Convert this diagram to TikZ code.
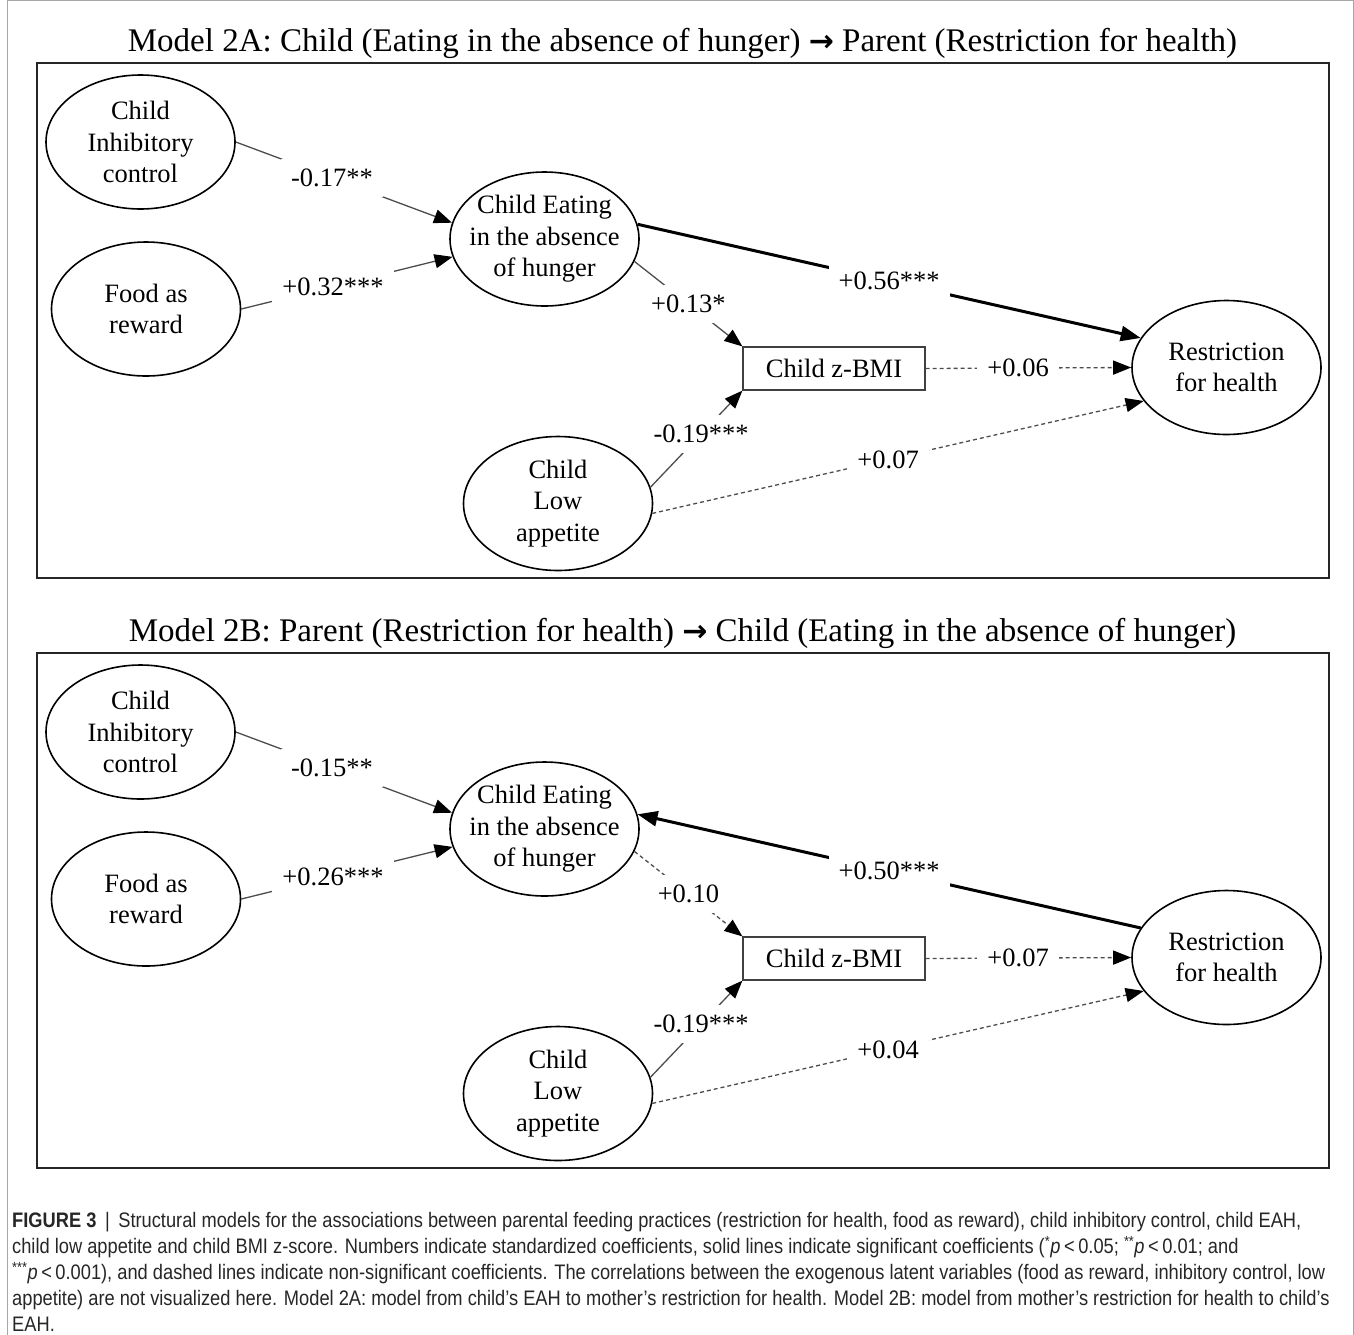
\documentclass[tikz,border=0pt]{standalone}
\usepackage{fontspec}
\setmainfont{Liberation Serif}
\setsansfont[FakeStretch=0.87]{Liberation Sans}
\newfontfamily\arrowfont{DejaVu Sans}
\usetikzlibrary{arrows.meta, shapes.geometric}

\begin{document}
\begin{tikzpicture}[x=1pt, y=-1pt,
    font=\fontsize{26.5}{31.5}\selectfont,
    latent/.style={draw, line width=1.6pt, ellipse, minimum width=189pt,
      minimum height=134pt, inner xsep=-30pt, inner ysep=0pt, align=center},
    obs/.style={draw=black!75, line width=1.2pt, minimum width=182pt,
      minimum height=43pt, inner sep=0pt},
    coef/.style={fill=white, inner sep=10pt},
    sig/.style={draw=black!70, line width=1.3pt,
      -{Triangle[length=18pt, width=14pt, color=black]}},
    ns/.style={sig, dash pattern=on 4pt off 3pt},
    strong/.style={draw=black, line width=3pt,
      -{Triangle[length=20pt, width=15pt]}},
    panel/.style={draw=black!85, line width=2pt},
    heading/.style={font=\fontsize{33}{33}\selectfont}]
    \useasboundingbox (0,0) rectangle (1354,1334);
    % outer frame
    \draw[black!35, line width=1pt] (7,0.5) rectangle (1353,1340);

    % Model 2A
    \node[heading] (atitle) at (682.5,43) {Model 2A: Child (Eating in the absence of hunger) {\arrowfont\bfseries\fontsize{30}{30}\selectfont →} Parent (Restriction for health)};
    \draw[panel] (37,63) rectangle (1329,578);
    \node[latent] (ainh) at (140.5,142) {Child\\Inhibitory\\control};
    \node[latent] (afood) at (146,309) {Food as\\reward};
    \node[latent] (aeat) at (544.5,239) {Child Eating\\in the absence\\of hunger};
    \node[obs] (abmi) at (834,368.5) {Child z-BMI};
    \node[latent] (arest) at (1226.5,367.5) {Restriction\\for health};
    \node[latent] (alow) at (558,503.5) {Child\\Low\\appetite};

    \draw[sig] (ainh.east) -- node[coef, pos=0.445] {-0.17**} (aeat.170);
    \draw[sig] (afood.east) -- node[coef, pos=0.434] {+0.32***} (aeat.191);
    \draw[strong] (aeat.9) -- node[coef] {+0.56***} (arest.161);
    \draw[sig] (aeat.346) -- node[coef, pos=0.5] {+0.13*} (abmi.north west);
    \draw[ns] (abmi.east) -- node[coef, pos=0.45] {+0.06} (arest.west);
    \draw[sig] (alow.10) -- node[coef, pos=0.55] {-0.19***} (abmi.south west);
    \draw[ns] (alow.354) -- node[coef, pos=0.48] {+0.07} (arest.202);

    % Model 2B
    \begin{scope}[shift={(0,590)}]
    \node[heading] (btitle) at (682.5,43) {Model 2B: Parent (Restriction for health) {\arrowfont\bfseries\fontsize{30}{30}\selectfont →} Child (Eating in the absence of hunger)};
    \draw[panel] (37,63) rectangle (1329,578);
    \node[latent] (binh) at (140.5,142) {Child\\Inhibitory\\control};
    \node[latent] (bfood) at (146,309) {Food as\\reward};
    \node[latent] (beat) at (544.5,239) {Child Eating\\in the absence\\of hunger};
    \node[obs] (bbmi) at (834,368.5) {Child z-BMI};
    \node[latent] (brest) at (1226.5,367.5) {Restriction\\for health};
    \node[latent] (blow) at (558,503.5) {Child\\Low\\appetite};

    \draw[sig] (binh.east) -- node[coef, pos=0.445] {-0.15**} (beat.170);
    \draw[sig] (bfood.east) -- node[coef, pos=0.434] {+0.26***} (beat.191);
    \draw[strong] (brest.161) -- node[coef] {+0.50***} (beat.9);
    \draw[ns] (beat.346) -- node[coef, pos=0.5] {+0.10} (bbmi.north west);
    \draw[ns] (bbmi.east) -- node[coef, pos=0.45] {+0.07} (brest.west);
    \draw[sig] (blow.10) -- node[coef, pos=0.55] {-0.19***} (bbmi.south west);
    \draw[ns] (blow.354) -- node[coef, pos=0.48] {+0.04} (brest.202);
    \end{scope}

    % caption
    \node[anchor=north west, inner sep=0pt, align=left, text=black!85,
      font=\sffamily\fontsize{21}{26}\selectfont] (caption) at (12,1212.5)
      {\textbf{FIGURE 3} \,|\, Structural models for the associations between parental feeding practices (restriction for health, food as reward), child inhibitory control, child EAH,\\
      child low appetite and child BMI z-score. Numbers indicate standardized coefficients, solid lines indicate significant coefficients (\textsuperscript{*}\textit{p}\,<\,0.05; \textsuperscript{**}\textit{p}\,<\,0.01; and\\
      \textsuperscript{***}\textit{p}\,<\,0.001), and dashed lines indicate non-significant coefficients. The correlations between the exogenous latent variables (food as reward, inhibitory control, low\\
      appetite) are not visualized here. Model 2A: model from child’s EAH to mother’s restriction for health. Model 2B: model from mother’s restriction for health to child’s\\
      EAH.};
\end{tikzpicture}
\end{document}
